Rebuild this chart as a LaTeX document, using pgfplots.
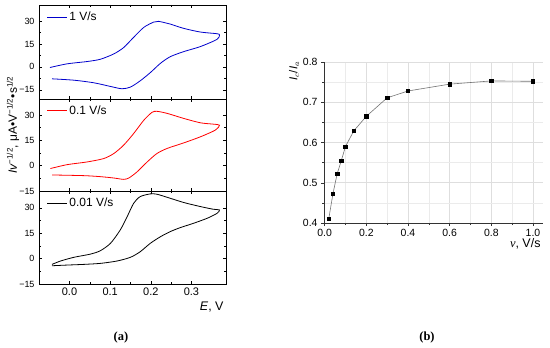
\documentclass[border=0pt]{standalone}
\usepackage{pgfplots}
\pgfplotsset{compat=1.18}
\usepackage{fontspec}
\setmainfont{Liberation Sans}
\newfontfamily\serif{Liberation Serif}
\begin{document}
\begin{tikzpicture}[x=1bp,y=1bp]
\path[use as bounding box] (0,0) rectangle (550,347);
\pgfplotsset{
  cvstyle/.style={
    scale only axis, width=187bp, anchor=south west,
    xmin=-0.075, xmax=0.385,
    xtick={0,0.1,0.2,0.3}, minor x tick num=1,
    ytick={-15,0,15,30}, yticklabels={−15,0,15,30},
    minor y tick num=1,
    tick align=inside,
    major tick length=3bp, minor tick length=1.8bp,
    every tick/.style={black, line width=0.5bp},
    axis line style={line width=0.6bp},
    yticklabel style={font=\fontsize{9}{9}\selectfont, xshift=-1bp},
    xticklabel style={font=\fontsize{11}{11}\selectfont},
    legend style={at={(0.04,0.95)}, anchor=north west, draw=none, fill=none,
      font=\fontsize{12}{12}\selectfont, inner xsep=0pt, inner ysep=0pt},
    legend image code/.code={\draw[##1, line width=0.8bp] (0bp,0bp) -- (20bp,0bp);},
  }
}
% top panel: 1 V/s
\begin{axis}[cvstyle, at={(39bp,248bp)}, height=94bp, ymin=-21, ymax=40.5,
  xticklabels={}]
\addplot[blue!80!black, line width=0.8bp, smooth, tension=0.45] coordinates {
(-0.048,-0.4) (-0.006,2.0) (0.043,3.5) (0.076,5.0) (0.109,8.5) (0.133,12.6)
(0.158,19.4) (0.183,25.9) (0.207,29.3) (0.219,29.8) (0.248,28.0) (0.281,25.2)
(0.322,22.8) (0.363,21.7) (0.369,20.9) (0.363,18.0) (0.322,13.3) (0.281,10.0)
(0.248,6.7) (0.224,2.4) (0.199,-3.7) (0.174,-9.1) (0.150,-13.2) (0.129,-14.3)
(0.101,-12.8) (0.060,-10.4) (0.011,-8.7) (-0.043,-7.8)};
\addlegendentry{1 V/s}
\end{axis}
% middle panel: 0.1 V/s
\begin{axis}[cvstyle, at={(39bp,156bp)}, height=92bp, ymin=-15, ymax=39.5,
  xticklabels={}]
\addplot[red, line width=0.8bp, smooth, tension=0.45] coordinates {
(-0.047,-1.7) (-0.006,0.6) (0.043,2.2) (0.084,4.2) (0.109,7.2) (0.133,12.1)
(0.158,19.1) (0.183,27.0) (0.203,31.6) (0.215,32.2) (0.240,31.0) (0.281,28.0)
(0.322,25.4) (0.354,24.6) (0.369,24.0) (0.359,21.1) (0.322,17.1) (0.281,13.5)
(0.240,10.2) (0.215,7.2) (0.191,2.2) (0.166,-3.7) (0.146,-7.3) (0.133,-8.1)
(0.109,-7.3) (0.076,-6.5) (0.035,-5.9) (-0.043,-5.5)};
\addlegendentry{0.1 V/s}
\end{axis}
% bottom panel: 0.01 V/s
\begin{axis}[cvstyle, at={(39bp,63bp)}, height=93bp, ymin=-15, ymax=40,
  xticklabels={0.0,0.1,0.2,0.3}]
\addplot[black, line width=0.8bp, smooth, tension=0.45] coordinates {
(-0.043,-3.4) (-0.022,-1.4) (0.011,0.8) (0.052,2.7) (0.076,4.7) (0.101,9.1)
(0.125,17.0) (0.142,24.9) (0.158,32.8) (0.174,36.7) (0.199,38.3) (0.215,38.1)
(0.240,36.3) (0.281,33.2) (0.322,30.8) (0.354,29.2) (0.369,28.8) (0.363,26.8)
(0.339,23.9) (0.305,20.9) (0.272,18.3) (0.248,16.0) (0.224,13.0) (0.199,9.1)
(0.174,4.1) (0.150,0.8) (0.117,-1.4) (0.076,-2.8) (0.035,-3.4) (-0.006,-3.8)
(-0.043,-4.2)};
\addlegendentry{0.01 V/s}
\end{axis}
% labels of left panel
\node[rotate=90, font=\fontsize{12}{12}\selectfont] at (13,222)
  {\itshape Iv\upshape\textsuperscript{−1/2}, μA•V\textsuperscript{−1/2}•s\textsuperscript{1/2}};
\node[anchor=east, font=\fontsize{12.5}{12.5}\selectfont] at (227,40) {\itshape E\upshape, V};
% right panel
\begin{axis}[at={(324bp,124bp)}, anchor=south west, scale only axis,
  width=219bp, height=161bp,
  xmin=-0.003, xmax=1.048, ymin=0.4, ymax=0.8,
  axis lines=left, axis line style={-, line width=0.6bp, black!80},
  xtick={0,0.2,0.4,0.6,0.8,1.0}, xticklabels={0.0,0.2,0.4,0.6,0.8,1.0},
  ytick={0.4,0.5,0.6,0.7,0.8}, yticklabels={0.4,0.5,0.6,0.7,0.8},
  minor x tick num=1, minor y tick num=1,
  tick align=outside, major tick length=3bp, minor tick length=2bp,
  every tick/.style={black!80, line width=0.5bp},
  grid=both, major grid style={black!13, line width=0.6bp},
  minor grid style={black!8, line width=0.5bp},
  ticklabel style={font=\fontsize{10.5}{10.5}\selectfont},
  clip=false]
\addplot[black!55, line width=0.6bp, mark=square*, mark size=1.7bp,
  mark options={black, fill=black}] coordinates {
(0.02,0.411) (0.04,0.473) (0.06,0.522) (0.08,0.555) (0.10,0.590) (0.14,0.629)
(0.20,0.665) (0.30,0.711) (0.40,0.728) (0.60,0.745) (0.80,0.753) (1.00,0.752)};
\end{axis}
\node[rotate=90, font=\fontsize{11.5}{11.5}\selectfont] at (294,276) {\itshape I\upshape$_c$/\itshape I\upshape$_a$};
\node[anchor=east, font=\fontsize{12.5}{12.5}\selectfont] at (544,103) {{\serif\itshape v}, V/s};
% captions
\node[font=\serif\bfseries\fontsize{12.5}{12.5}\selectfont] at (121,10) {(a)};
\node[font=\serif\bfseries\fontsize{12.5}{12.5}\selectfont] at (427,10) {(b)};
\end{tikzpicture}
\end{document}
